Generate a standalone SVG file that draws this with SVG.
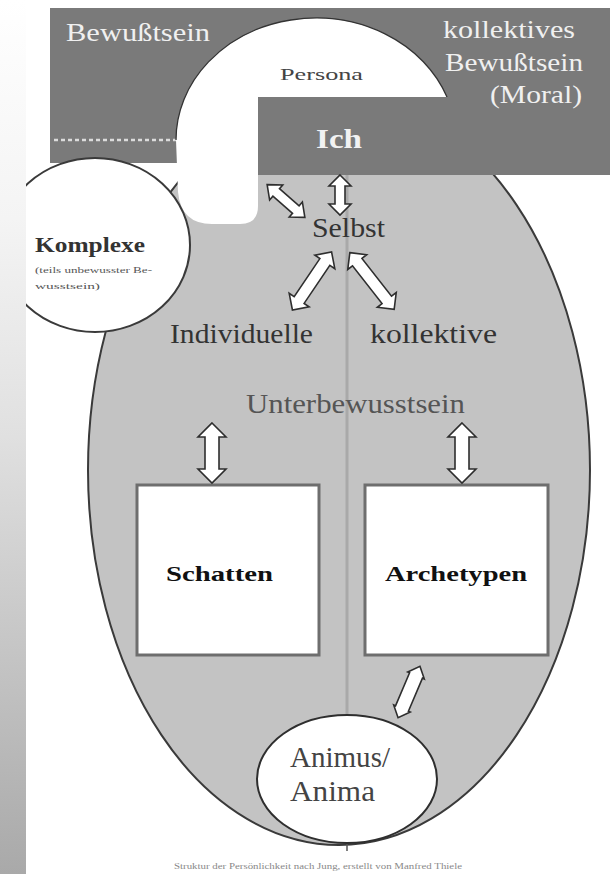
<svg xmlns="http://www.w3.org/2000/svg" width="610" height="874" viewBox="0 0 610 874">
  <defs>
    <linearGradient id="strip" x1="0" y1="0" x2="0" y2="1">
      <stop offset="0" stop-color="#ffffff"/>
      <stop offset="0.25" stop-color="#f4f4f4"/>
      <stop offset="0.5" stop-color="#e0e0e0"/>
      <stop offset="1" stop-color="#a9a9a9"/>
    </linearGradient>
  </defs>
  <style>
    .serif { font-family: "Liberation Serif", "Times New Roman", serif; }
    .band-text { fill: #f0f0f0; font-size: 25px; }
    .dark-text { fill: #333333; }
    .box { fill: #ffffff; stroke: #6e6e6e; stroke-width: 3; }
    .arrow { fill: #ffffff; stroke: #2e2e2e; stroke-width: 1.6; stroke-linejoin: miter; }
    .outline { stroke: #3a3a3a; stroke-width: 2; }
  </style>

  <rect x="0" y="0" width="610" height="874" fill="#ffffff"/>

  <!-- unconscious (big ellipse) -->
  <g id="psyche">
    <ellipse cx="339" cy="470" rx="251" ry="375" fill="#c3c3c3" class="outline"/>
    <line x1="347" y1="175" x2="347" y2="716" stroke="#a9a9a9" stroke-width="3"/>
    <line x1="347" y1="843" x2="347" y2="851" stroke="#555" stroke-width="1.5"/>
  </g>

  <!-- consciousness band -->
  <g id="bewusstsein">
    <path d="M50,8 H610 V175 H258 V163 H50 Z" fill="#7a7a7a"/>
    <line x1="54" y1="140" x2="176" y2="140" stroke="#dcdcdc" stroke-width="2.5" stroke-dasharray="4 3"/>
    <text class="serif band-text" x="66" y="41" textLength="144" lengthAdjust="spacingAndGlyphs">Bewußtsein</text>
  </g>

  <!-- persona -->
  <g id="persona">
    <path d="M258,97 H447 A140,122 0 0 0 176,140 L178,192 Q181,224 212,224 H240 Q258,224 258,206 Z" fill="#ffffff"/>
    <path d="M447,97 A140,122 0 0 0 176,140" fill="none" stroke="#333" stroke-width="1.3"/>
    <text class="serif" x="280" y="80" font-size="17" textLength="83" lengthAdjust="spacingAndGlyphs" fill="#444">Persona</text>
  </g>

  <!-- Ich -->
  <g id="ich">
    <rect x="258" y="97" width="352" height="78" fill="#7a7a7a"/>
    <text class="serif" x="316" y="148" font-size="27" font-weight="bold" fill="#f2f2f2" textLength="46" lengthAdjust="spacingAndGlyphs">Ich</text>
  </g>

  <g id="kollektives-bewusstsein">
    <text class="serif band-text" x="443" y="38" textLength="132" lengthAdjust="spacingAndGlyphs">kollektives</text>
    <text class="serif band-text" x="445" y="71" textLength="138" lengthAdjust="spacingAndGlyphs">Bewußtsein</text>
    <text class="serif band-text" x="490" y="103" textLength="92" lengthAdjust="spacingAndGlyphs">(Moral)</text>
  </g>

  <!-- Komplexe -->
  <g id="komplexe">
    <ellipse cx="95" cy="245" rx="95" ry="87" fill="#ffffff" class="outline"/>
    <text class="serif dark-text" x="35" y="252" font-size="20" font-weight="bold" textLength="110" lengthAdjust="spacingAndGlyphs">Komplexe</text>
    <text class="serif" x="35" y="273" font-size="9" fill="#555" textLength="117" lengthAdjust="spacingAndGlyphs">(teils unbewusster Be-</text>
    <text class="serif" x="35" y="289" font-size="9" fill="#555" textLength="65" lengthAdjust="spacingAndGlyphs">wusstsein)</text>
  </g>

  <!-- left gradient strip -->
  <rect x="0" y="0" width="26" height="874" fill="url(#strip)"/>

  <!-- Selbst and labels -->
  <g id="selbst">
    <text class="serif dark-text" x="312" y="237" font-size="28" textLength="73" lengthAdjust="spacingAndGlyphs">Selbst</text>
  </g>
  <g id="individuelle">
    <text class="serif dark-text" x="170" y="343" font-size="28" textLength="143" lengthAdjust="spacingAndGlyphs">Individuelle</text>
  </g>
  <g id="kollektive">
    <text class="serif dark-text" x="370" y="343" font-size="28" textLength="127" lengthAdjust="spacingAndGlyphs">kollektive</text>
  </g>
  <g id="unterbewusstsein">
    <text class="serif" x="246" y="413" font-size="28" fill="#555" textLength="219" lengthAdjust="spacingAndGlyphs">Unterbewusstsein</text>
  </g>

  <!-- Schatten -->
  <g id="schatten">
    <rect class="box" x="137" y="485" width="182" height="170"/>
    <text class="serif" x="166" y="581" font-size="22" font-weight="bold" fill="#111" textLength="107" lengthAdjust="spacingAndGlyphs">Schatten</text>
  </g>

  <!-- Archetypen -->
  <g id="archetypen">
    <rect class="box" x="365" y="485" width="183" height="170"/>
    <text class="serif" x="385" y="581" font-size="22" font-weight="bold" fill="#111" textLength="142" lengthAdjust="spacingAndGlyphs">Archetypen</text>
  </g>

  <!-- Animus / Anima -->
  <g id="animus-anima">
    <ellipse cx="347" cy="779" rx="90" ry="64" fill="#ffffff" stroke="#2e2e2e" stroke-width="2"/>
    <text class="serif" x="290" y="767" font-size="29" fill="#444" textLength="100" lengthAdjust="spacingAndGlyphs">Animus/</text>
    <text class="serif" x="290" y="801" font-size="29" fill="#444" textLength="85" lengthAdjust="spacingAndGlyphs">Anima</text>
  </g>

  <!-- connectors: double-headed block arrows -->
  <g id="connectors">
    <path class="arrow" transform="translate(340,195) rotate(90)" d="M-20,0 L-9,-11 L-9,-5 L9,-5 L9,-11 L20,0 L9,11 L9,5 L-9,5 L-9,11 Z"/>
    <path class="arrow" transform="translate(286,201) rotate(41)" d="M-25,0 L-13,-10 L-13,-5 L13,-5 L13,-10 L25,0 L13,10 L13,5 L-13,5 L-13,10 Z"/>
    <path class="arrow" transform="translate(312,281) rotate(124)" d="M-35,0 L-23,-12 L-23,-6 L23,-6 L23,-12 L35,0 L23,12 L23,6 L-23,6 L-23,12 Z"/>
    <path class="arrow" transform="translate(372,281) rotate(52)" d="M-36,0 L-24,-12 L-24,-6 L24,-6 L24,-12 L36,0 L24,12 L24,6 L-24,6 L-24,12 Z"/>
    <path class="arrow" transform="translate(212,453) rotate(90)" d="M-30,0 L-16,-14 L-16,-7 L16,-7 L16,-14 L30,0 L16,14 L16,7 L-16,7 L-16,14 Z"/>
    <path class="arrow" transform="translate(462,453) rotate(90)" d="M-30,0 L-16,-14 L-16,-7 L16,-7 L16,-14 L30,0 L16,14 L16,7 L-16,7 L-16,14 Z"/>
    <path class="arrow" transform="translate(409,692) rotate(113)" d="M-28,0 L-18,-9 L-18,-7 L18,-7 L18,-9 L28,0 L18,9 L18,7 L-18,7 L-18,9 Z"/>
  </g>

  <!-- caption -->
  <text class="serif" x="174" y="869" font-size="9" fill="#888" textLength="288" lengthAdjust="spacingAndGlyphs">Struktur der Persönlichkeit nach Jung, erstellt von Manfred Thiele</text>
</svg>
